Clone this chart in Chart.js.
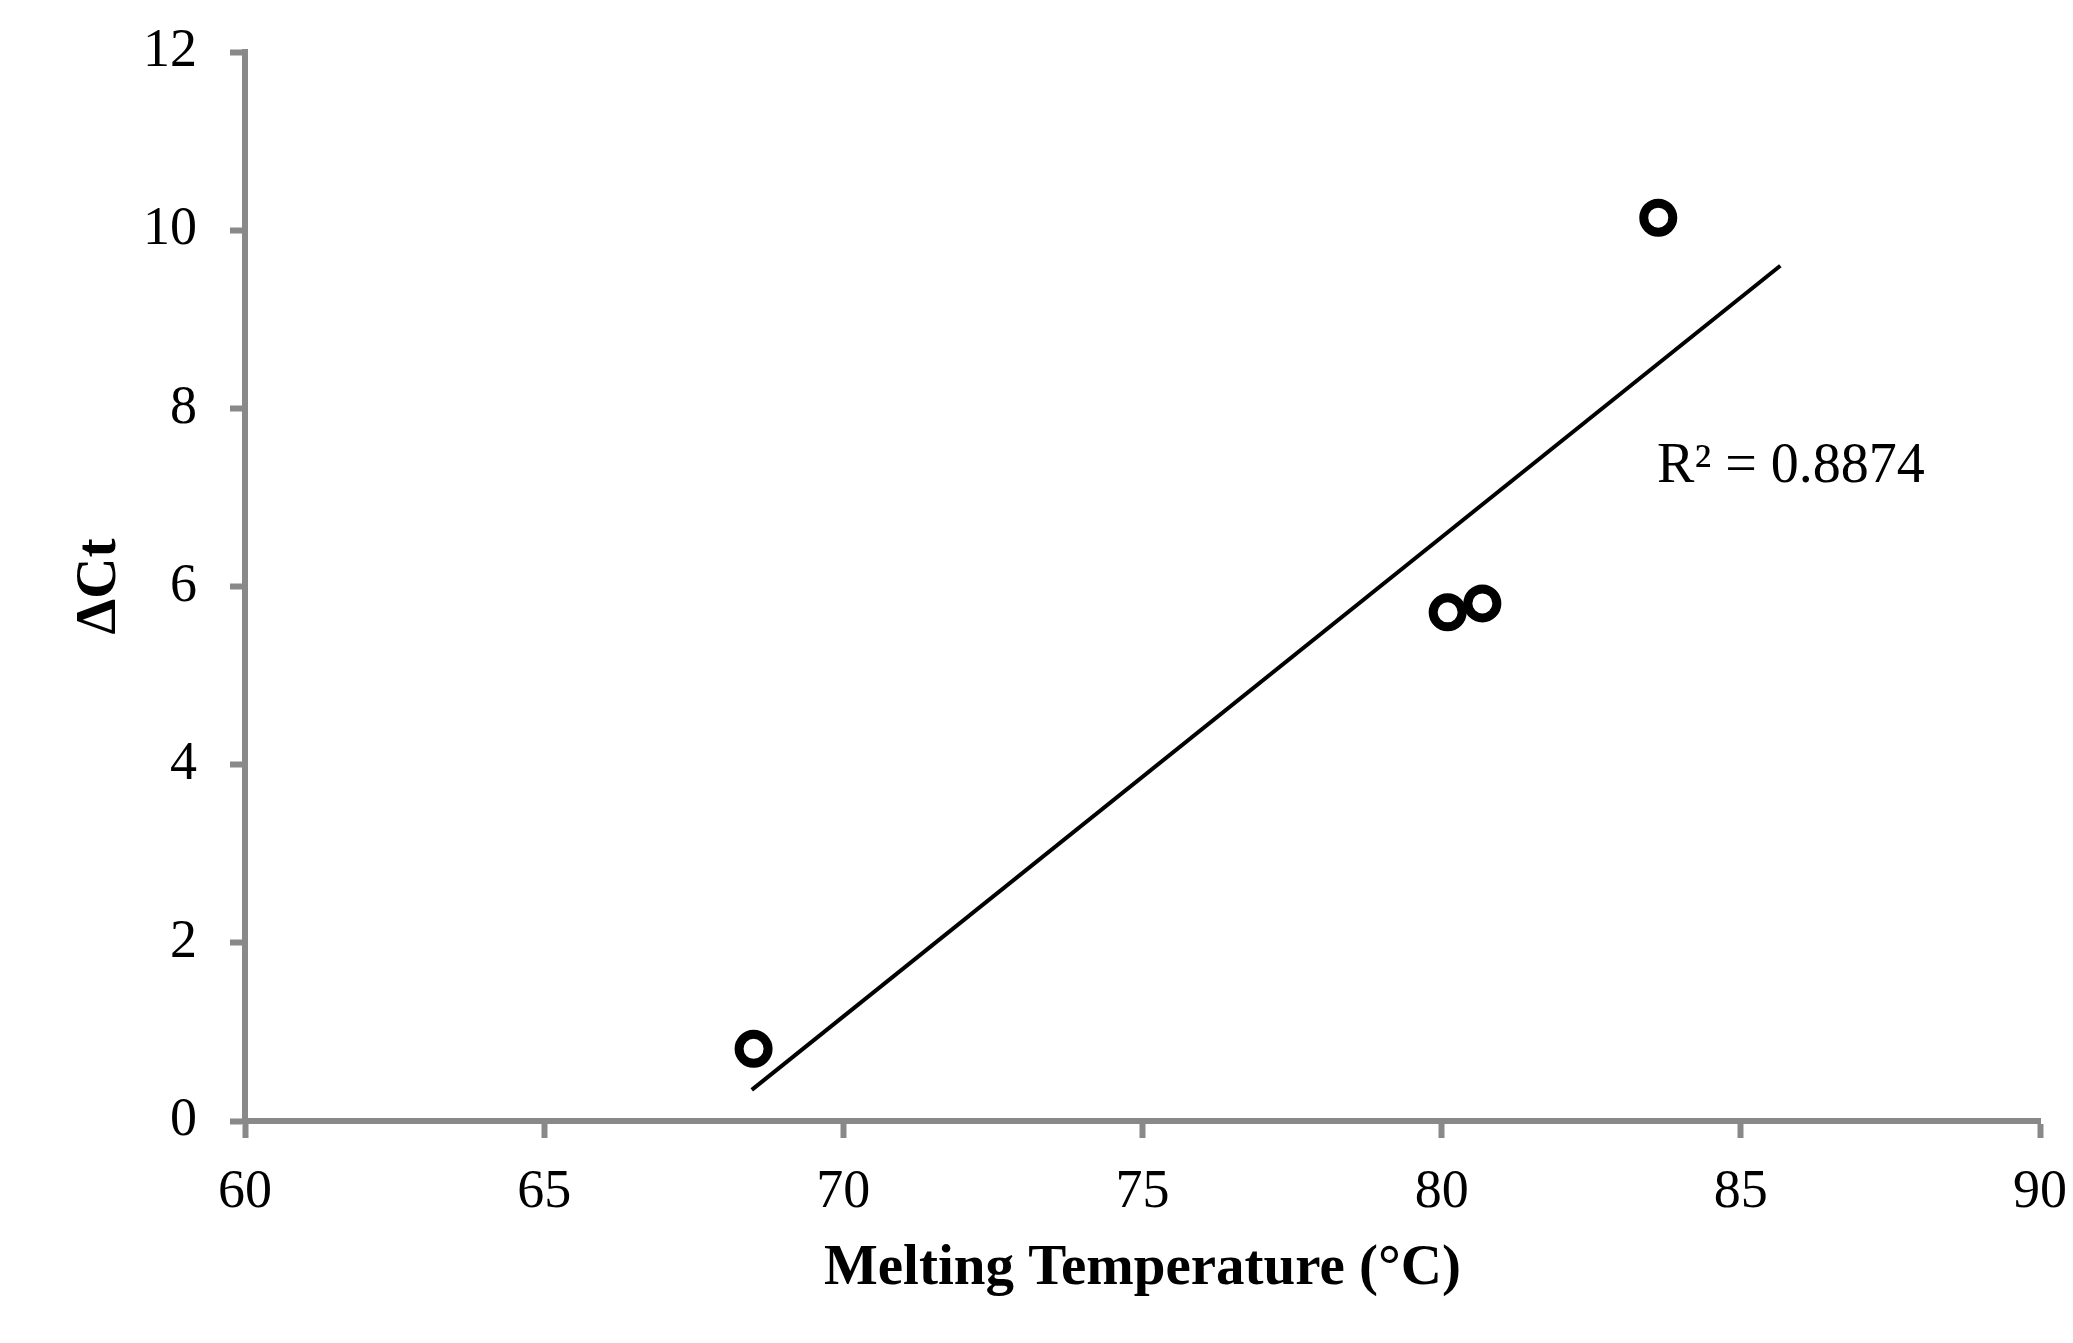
<!DOCTYPE html>
<html>
<head>
<meta charset="utf-8">
<script src="https://cdn.jsdelivr.net/npm/chart.js@4.4.1/dist/chart.umd.min.js"></script>
<style>
  html, body { margin: 0; padding: 0; background: #fff; }
  #wrap { width: 2073px; height: 1343px; }
</style>
</head>
<body>
<div id="wrap"><canvas id="chart"></canvas></div>
<script>
// Melting temperature vs delta Ct
const meltTemps = [68.5, 80.1, 80.68, 83.62];
const deltaCt = [0.81, 5.71, 5.81, 10.14];

// trendline end points
const trendX = [68.47, 85.66];
const trendY = [0.35, 9.6];

const r2Label = 'R\u00b2 = 0.8874';
const r2Pos = { x: 83.6, y: 7.17 };

const xTicks = { min: 60, max: 90, step: 5 };
const yTicks = { min: 0, max: 12, step: 2 };

const serif = '"Liberation Serif", "Times New Roman", serif';
const axisGrey = '#898989';

const r2Plugin = {
    id: 'r2Plugin',
    afterDatasetsDraw(chart) {
        const ctx = chart.ctx;
        const xs = chart.scales.x;
        const ys = chart.scales.y;
        ctx.save();
        ctx.font = '56px ' + serif;
        ctx.fillStyle = '#000';
        ctx.textAlign = 'left';
        ctx.textBaseline = 'alphabetic';
        ctx.fillText(r2Label, xs.getPixelForValue(r2Pos.x), ys.getPixelForValue(r2Pos.y));
        ctx.restore();
    }
};

const points = meltTemps.map((t, i) => ({ x: t, y: deltaCt[i] }));
const trend = trendX.map((t, i) => ({ x: t, y: trendY[i] }));

new Chart(document.getElementById('chart'), {
    type: 'scatter',
    data: {
        datasets: [
            {
                label: 'Delta Ct',
                data: points,
                pointStyle: 'circle',
                pointRadius: 14.5,
                pointHoverRadius: 14.5,
                borderWidth: 9,
                borderColor: '#000',
                backgroundColor: '#fff'
            },
            {
                label: 'Linear',
                type: 'line',
                data: trend,
                borderColor: '#000',
                borderWidth: 4,
                pointRadius: 0,
                fill: false,
                tension: 0
            }
        ]
    },
    options: {
        responsive: true,
        maintainAspectRatio: false,
        animation: false,
        events: [],
        layout: {
            padding: { left: 0, right: 33, top: 52, bottom: 0 }
        },
        plugins: {
            legend: { display: false },
            tooltip: { enabled: false }
        },
        scales: {
            x: {
                type: 'linear',
                min: xTicks.min,
                max: xTicks.max,
                afterFit(scale) {
                    scale.height = 222;
                    scale.paddingLeft = 0;
                    scale.paddingRight = 0;
                },
                ticks: {
                    stepSize: xTicks.step,
                    color: '#000',
                    padding: 22,
                    font: { family: serif, size: 54 }
                },
                grid: {
                    drawOnChartArea: false,
                    drawTicks: true,
                    tickLength: 17,
                    tickWidth: 6,
                    tickColor: axisGrey
                },
                border: { display: true, color: axisGrey, width: 6 },
                title: {
                    display: true,
                    text: 'Melting Temperature (\u00b0C)',
                    color: '#000',
                    font: { family: serif, size: 57, weight: 'bold' },
                    padding: { top: 0, bottom: 40 }
                }
            },
            y: {
                type: 'linear',
                min: yTicks.min,
                max: yTicks.max,
                afterFit(scale) {
                    scale.width = 245;
                    scale.paddingTop = 0;
                    scale.paddingBottom = 0;
                },
                ticks: {
                    stepSize: yTicks.step,
                    color: '#000',
                    padding: 33,
                    font: { family: serif, size: 54 }
                },
                grid: {
                    drawOnChartArea: false,
                    drawTicks: true,
                    tickLength: 15,
                    tickWidth: 6,
                    tickColor: axisGrey
                },
                border: { display: true, color: axisGrey, width: 6 },
                title: {
                    display: true,
                    text: '\u0394Ct',
                    color: '#000',
                    font: { family: serif, size: 57, weight: 'bold' },
                    padding: { top: 66, bottom: 0 }
                }
            }
        }
    },
    plugins: [r2Plugin]
});
</script>
</body>
</html>
